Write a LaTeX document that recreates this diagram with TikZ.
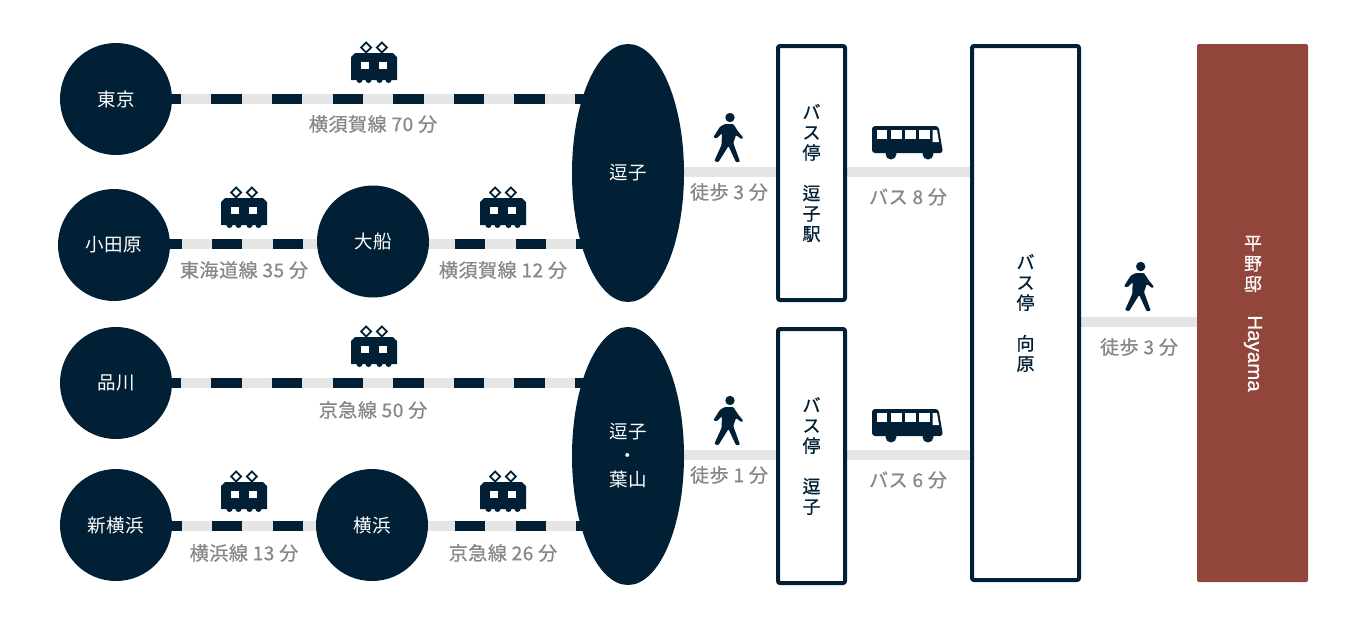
\documentclass[tikz,border=0pt]{standalone}
\usepackage{fontspec}
\setmainfont{Noto Sans CJK JP}
\newfontfamily\stationfont[LetterSpace=4]{Noto Sans CJK JP}
\newfontfamily\labelfont[LetterSpace=3,FakeBold=0.9]{Noto Sans CJK JP}
\newfontfamily\stopfont[FakeBold=0.7]{Noto Sans CJK JP}
\newfontfamily\romanfont[FakeBold=0.5]{Liberation Sans}
\usetikzlibrary{backgrounds,shapes.geometric}
\definecolor{navy}{HTML}{012036}
\definecolor{railgray}{HTML}{E5E5E5}
\definecolor{textgray}{HTML}{888888}
\definecolor{brick}{HTML}{91453B}
\tikzset{
  station/.style={circle,fill=navy,text=white,minimum size=112pt,inner sep=0pt,font=\stationfont\fontsize{18.5}{24}\selectfont,align=center},
  terminal/.style={ellipse,fill=navy,text=white,minimum width=112pt,minimum height=258pt,inner sep=0pt,font=\stationfont\fontsize{18.5}{24}\selectfont,align=center},
  stopbox/.style={draw=navy,fill=white,line width=4pt,rounded corners=2pt,inner sep=0pt,font=\stopfont\fontsize{18}{20.3}\selectfont,text=navy,align=center},
  timelabel/.style={text=textgray,font=\labelfont\fontsize{19}{20}\selectfont,inner sep=0pt},
  rail/.style={draw=railgray,line width=10pt},
  ties/.style={draw=navy,line width=10pt,dash pattern=on 30.33pt off 30.33pt},
  link/.style={draw=railgray,line width=10pt},
  trainicon/.pic={
    \fill[navy] (-23,17) -- (-23,-6) -- (-19,-10) -- (19,-10) -- (23,-6) -- (23,17) -- cycle;
    \foreach \wx in {-14.5,-5.5,5.5,14.5} \fill[navy] (\wx,17) circle (3);
    \foreach \wx in {-7.8,7.8} {
      \draw[navy,line width=1.8pt] (\wx,-20.5) -- (\wx+5,-15.5) -- (\wx,-10.5) -- (\wx-5,-15.5) -- cycle;
    }
    \fill[white] (-13,-1) rectangle (-5,6);
    \fill[white] (5,-1) rectangle (13,6);
  },
  busicon/.pic={
    \fill[navy,rounded corners=3pt] (-35.5,11) -- (-35.5,-16) -- (31,-16) -- (35.5,11) -- cycle;
    \fill[navy] (-16.5,12) circle (5.5);
    \fill[navy] (20.5,12) circle (5.5);
    \fill[white] (-30.8,-12) rectangle (-20.5,-3);
    \fill[white] (-17,-12) rectangle (-6,-3);
    \fill[white] (-2.5,-12) rectangle (8,-3);
    \fill[white] (11.5,-12) rectangle (22,-3);
    \fill[white] (25,-12) -- (29.5,-12) -- (31.5,0) -- (25,0) -- cycle;
  },
  walkicon/.pic={
    \fill[navy] (2,-22.5) circle (4.7);
    \fill[navy,rounded corners=1pt] (-14.7,-2.7) -- (-8,-13.3) -- (-3,-16) -- (5.3,-16) -- (10.3,-8.3) -- (15.3,-2.3) -- (13.7,-0.7) -- (8,-5) -- (5.3,3) -- (12,21.7) -- (8,22.3) -- (0.5,6) -- (-9.7,22.3) -- (-13.7,21) -- (-6.5,5) -- (-6,-6.7) -- (-11.3,-1.7) -- cycle;
  }
}
\begin{document}
\begin{tikzpicture}[x=1pt,y=-1pt]
    \useasboundingbox (0,0) rectangle (1366,625);

    \node[station] (tokyo) at (116,99) {\raisebox{1pt}{東京}};
    \node[station] (odawara) at (114,245) {\raisebox{1pt}{小田原}};
    \node[station] (ofuna) at (373,241.5) {\raisebox{1pt}{大船}};
    \node[station] (shinagawa) at (116,383) {\raisebox{1pt}{品川}};
    \node[station] (shinyoko) at (116,525) {新横浜};
    \node[station] (yokohama) at (372,525) {横浜};

    \node[terminal] (zushi) at (628,173) {\raisebox{1pt}{逗子}};
    \node[terminal] (hayamast) at (628,456) {逗子\\・\\葉山};

    \node[stopbox,minimum width=67pt,minimum height=254pt] (stopA) at (811.5,173) {バ\\ス\\停\\[20.3pt]逗\\子\\駅};
    \node[stopbox,minimum width=67pt,minimum height=254pt] (stopB) at (811.5,456) {バ\\ス\\停\\[20.3pt]逗\\子};
    \node[stopbox,minimum width=107pt,minimum height=534pt] (mukai) at (1025.5,313) {バ\\ス\\停\\[20.3pt]向\\原};
    \node[fill=brick,rounded corners=2pt,minimum width=111pt,minimum height=538pt,inner sep=0pt] (house) at (1252.5,313) {};
    \node[text=white,inner sep=0pt,align=center,font=\stopfont\fontsize{18}{20.5}\selectfont] (houseA) at (1253,264) {平\\野\\邸};
    \node[text=white,inner sep=0pt,rotate=-90,font=\romanfont\fontsize{20.5}{20}\selectfont] (houseB) at (1253,353.5) {Hayama};

    \coordinate (railB) at (0,243.5);
    \coordinate (railD) at (0,526);
    \coordinate (linkA) at (0,172);
    \coordinate (linkB) at (0,455);
    \coordinate (linkC) at (0,322);

    \begin{pgfonlayer}{background}
    \draw[rail] (tokyo) -- (tokyo -| zushi);
    \draw[ties,dash phase=21.67pt] (tokyo) -- (tokyo -| zushi);
    \draw[rail] (odawara |- railB) -- (ofuna |- railB);
    \draw[ties,dash phase=23.33pt] (odawara |- railB) -- (ofuna |- railB);
    \draw[rail] (ofuna |- railB) -- (zushi |- railB);
    \draw[ties,dash phase=39.33pt] (ofuna |- railB) -- (zushi |- railB);
    \draw[rail] (shinagawa) -- (shinagawa -| hayamast);
    \draw[ties,dash phase=21.67pt] (shinagawa) -- (shinagawa -| hayamast);
    \draw[rail] (shinyoko |- railD) -- (yokohama |- railD);
    \draw[ties,dash phase=25.33pt] (shinyoko |- railD) -- (yokohama |- railD);
    \draw[rail] (yokohama |- railD) -- (hayamast |- railD);
    \draw[ties,dash phase=38.33pt] (yokohama |- railD) -- (hayamast |- railD);

    \draw[link] (zushi |- linkA) -- (stopA |- linkA);
    \draw[link] (stopA |- linkA) -- (mukai |- linkA);
    \draw[link] (hayamast |- linkB) -- (stopB |- linkB);
    \draw[link] (stopB |- linkB) -- (mukai |- linkB);
    \draw[link] (mukai |- linkC) -- (house |- linkC);
    \end{pgfonlayer}

    \node[timelabel] (timeA) at (373,124) {横須賀線 70 分};
    \node[timelabel] (timeB) at (244,270) {東海道線 35 分};
    \node[timelabel] (timeC) at (503,270) {横須賀線 12 分};
    \node[timelabel] (timeD) at (373,410) {京急線 50 分};
    \node[timelabel] (timeE) at (244,553) {横浜線 13 分};
    \node[timelabel] (timeF) at (503,553) {京急線 26 分};
    \node[timelabel] (timeG) at (729,192) {徒歩 3 分};
    \node[timelabel] (timeH) at (729,475) {徒歩 1 分};
    \node[timelabel] (timeI) at (908,197) {バス 8 分};
    \node[timelabel] (timeJ) at (908,480) {バス 6 分};
    \node[timelabel] (timeK) at (1139,347) {徒歩 3 分};

    \pic at (374,63) {trainicon};
    \pic at (244,208) {trainicon};
    \pic at (503,208) {trainicon};
    \pic at (374,347) {trainicon};
    \pic at (244,492) {trainicon};
    \pic at (503,492) {trainicon};

    \pic at (728,140) {walkicon};
    \pic at (728,423) {walkicon};
    \pic at (1138.7,289) {walkicon};

    \pic at (907.5,142) {busicon};
    \pic at (907.5,425) {busicon};

\end{tikzpicture}
\end{document}
